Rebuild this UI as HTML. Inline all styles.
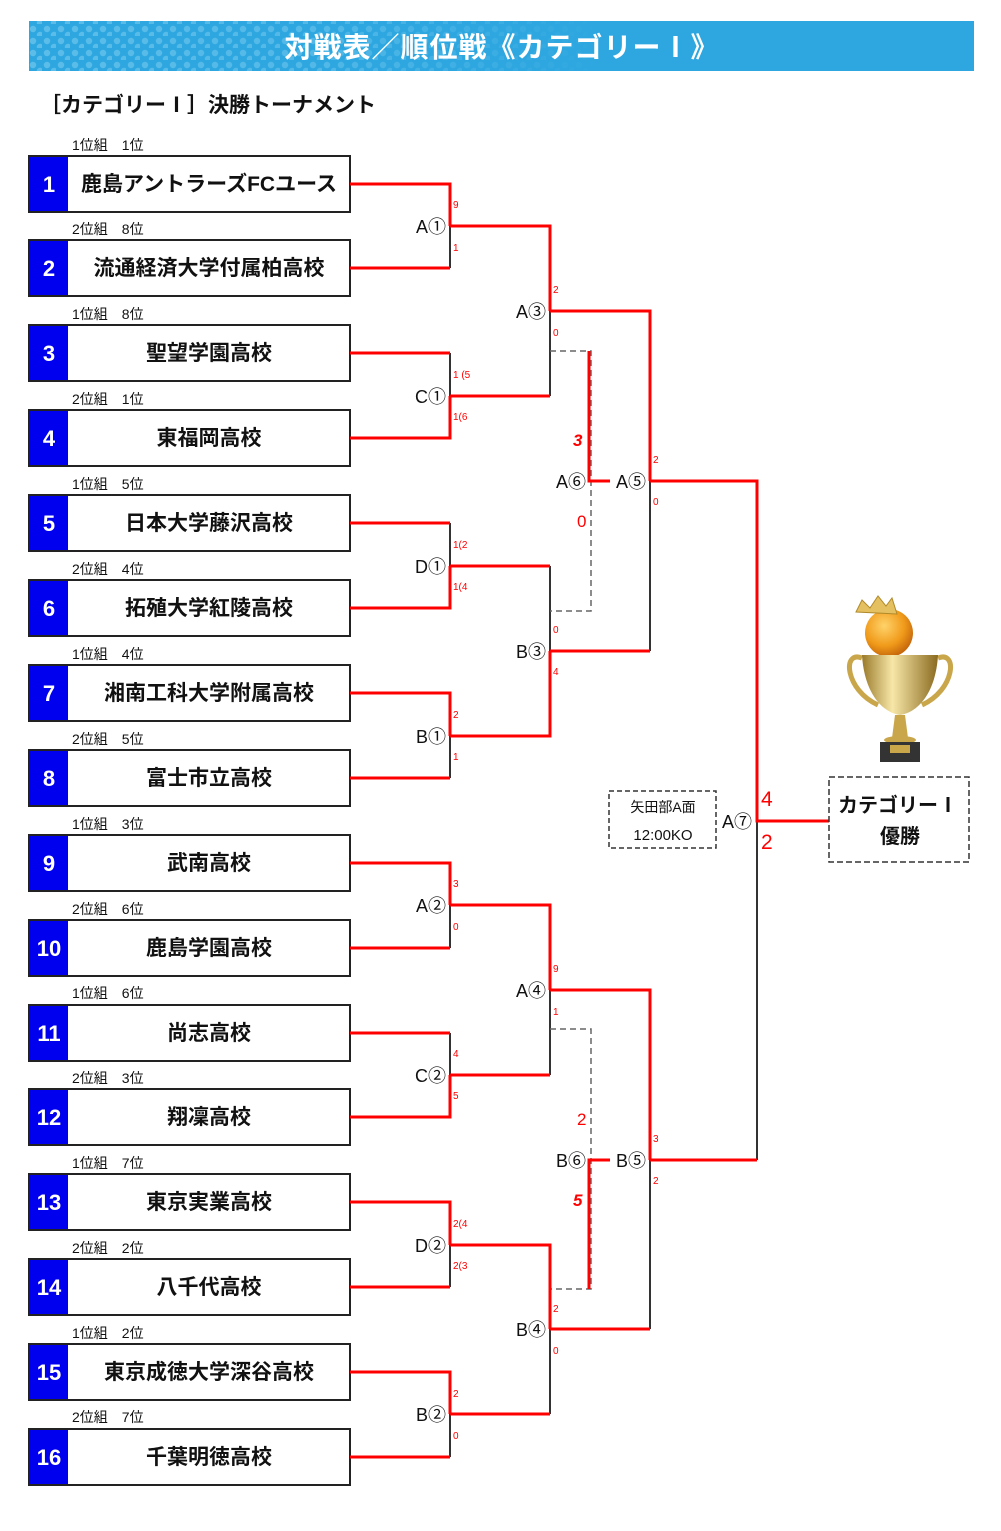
<!DOCTYPE html>
<html><head><meta charset="utf-8">
<style>
html,body{margin:0;padding:0;background:#fff;}
body{width:1001px;height:1526px;overflow:hidden;font-family:"Liberation Sans","Noto Sans CJK JP",sans-serif;}
svg text{font-family:"Liberation Sans","Noto Sans CJK JP",sans-serif;}
</style></head><body>
<svg width="1001" height="1526" viewBox="0 0 1001 1526" xmlns="http://www.w3.org/2000/svg">
<defs>
<pattern id="dots" width="14" height="12" patternUnits="userSpaceOnUse">
<circle cx="5" cy="5" r="3.2" fill="#5cbde9"/>
<circle cx="12" cy="11" r="3.2" fill="#5cbde9"/>
</pattern>
<linearGradient id="fade" x1="0" x2="1"><stop offset="0" stop-color="#2ea7e0" stop-opacity="0"/><stop offset="0.3" stop-color="#2ea7e0" stop-opacity="0.2"/><stop offset="0.6" stop-color="#2ea7e0" stop-opacity="1"/></linearGradient>
<radialGradient id="ball" cx="0.4" cy="0.35" r="0.7"><stop offset="0" stop-color="#ffd36a"/><stop offset="0.6" stop-color="#f09a1a"/><stop offset="1" stop-color="#c0600a"/></radialGradient>
<linearGradient id="gold" x1="0" x2="1"><stop offset="0" stop-color="#9a7a2a"/><stop offset="0.4" stop-color="#f7e7a8"/><stop offset="1" stop-color="#8a6a20"/></linearGradient>
</defs>
<!-- header -->
<rect x="29" y="21" width="945" height="50" fill="#2ea7e0"/>
<rect x="29" y="21" width="945" height="50" fill="url(#dots)"/>
<rect x="29" y="21" width="945" height="50" fill="url(#fade)"/>
<text x="502" y="57" text-anchor="middle" font-size="28" font-weight="bold" fill="#fff" letter-spacing="1">対戦表／順位戦《カテゴリーⅠ》</text>
<text x="40" y="112" font-size="21" font-weight="bold" fill="#111">［カテゴリーⅠ］決勝トーナメント</text>

<!-- teams -->
<g font-size="14" fill="#111">
<text x="72" y="150">1位組　1位</text><text x="72" y="234">2位組　8位</text>
<text x="72" y="319">1位組　8位</text><text x="72" y="404">2位組　1位</text>
<text x="72" y="489">1位組　5位</text><text x="72" y="574">2位組　4位</text>
<text x="72" y="659">1位組　4位</text><text x="72" y="744">2位組　5位</text>
<text x="72" y="829">1位組　3位</text><text x="72" y="914">2位組　6位</text>
<text x="72" y="998">1位組　6位</text><text x="72" y="1083">2位組　3位</text>
<text x="72" y="1168">1位組　7位</text><text x="72" y="1253">2位組　2位</text>
<text x="72" y="1338">1位組　2位</text><text x="72" y="1422">2位組　7位</text>
</g>
<g stroke="#222" stroke-width="2" fill="#fff">
<rect x="29" y="156" width="321" height="56"/><rect x="29" y="240" width="321" height="56"/>
<rect x="29" y="325" width="321" height="56"/><rect x="29" y="410" width="321" height="56"/>
<rect x="29" y="495" width="321" height="56"/><rect x="29" y="580" width="321" height="56"/>
<rect x="29" y="665" width="321" height="56"/><rect x="29" y="750" width="321" height="56"/>
<rect x="29" y="835" width="321" height="56"/><rect x="29" y="920" width="321" height="56"/>
<rect x="29" y="1005" width="321" height="56"/><rect x="29" y="1089" width="321" height="56"/>
<rect x="29" y="1174" width="321" height="56"/><rect x="29" y="1259" width="321" height="56"/>
<rect x="29" y="1344" width="321" height="56"/><rect x="29" y="1429" width="321" height="56"/>
</g>
<g fill="#0000ee">
<rect x="30" y="157" width="38" height="54"/><rect x="30" y="241" width="38" height="54"/>
<rect x="30" y="326" width="38" height="54"/><rect x="30" y="411" width="38" height="54"/>
<rect x="30" y="496" width="38" height="54"/><rect x="30" y="581" width="38" height="54"/>
<rect x="30" y="666" width="38" height="54"/><rect x="30" y="751" width="38" height="54"/>
<rect x="30" y="836" width="38" height="54"/><rect x="30" y="921" width="38" height="54"/>
<rect x="30" y="1006" width="38" height="54"/><rect x="30" y="1090" width="38" height="54"/>
<rect x="30" y="1175" width="38" height="54"/><rect x="30" y="1260" width="38" height="54"/>
<rect x="30" y="1345" width="38" height="54"/><rect x="30" y="1430" width="38" height="54"/>
</g>
<g fill="#fff" font-size="22" font-weight="bold" text-anchor="middle">
<text x="49" y="192">1</text><text x="49" y="276">2</text><text x="49" y="361">3</text><text x="49" y="446">4</text>
<text x="49" y="531">5</text><text x="49" y="616">6</text><text x="49" y="701">7</text><text x="49" y="786">8</text>
<text x="49" y="871">9</text><text x="49" y="956">10</text><text x="49" y="1041">11</text><text x="49" y="1125">12</text>
<text x="49" y="1210">13</text><text x="49" y="1295">14</text><text x="49" y="1380">15</text><text x="49" y="1465">16</text>
</g>
<g fill="#111" font-size="21" font-weight="bold" text-anchor="middle">
<text x="209" y="191">鹿島アントラーズFCユース</text><text x="209" y="275">流通経済大学付属柏高校</text>
<text x="209" y="360">聖望学園高校</text><text x="209" y="445">東福岡高校</text>
<text x="209" y="530">日本大学藤沢高校</text><text x="209" y="615">拓殖大学紅陵高校</text>
<text x="209" y="700">湘南工科大学附属高校</text><text x="209" y="785">富士市立高校</text>
<text x="209" y="870">武南高校</text><text x="209" y="955">鹿島学園高校</text>
<text x="209" y="1040">尚志高校</text><text x="209" y="1124">翔凜高校</text>
<text x="209" y="1209">東京実業高校</text><text x="209" y="1294">八千代高校</text>
<text x="209" y="1379">東京成徳大学深谷高校</text><text x="209" y="1464">千葉明徳高校</text>
</g>

<!-- black lines (losers) -->
<g stroke="#333" stroke-width="2" fill="none">
<path d="M450 226V268M450 353V396M450 523V566M450 736V778M450 905V948M450 1033V1075M450 1245V1287M450 1414V1457"/>
<path d="M550 311V396M550 566V651M550 990V1075M550 1329V1414"/>
<path d="M650 481V651M650 1160V1329"/>
<path d="M757 821V1160"/>
</g>
<g stroke="#666" stroke-width="1.5" fill="none" stroke-dasharray="6,4">
<path d="M550 351H591V611H550"/>
<path d="M550 1029H591V1289H550"/>
</g>
<!-- red lines (winners) -->
<g stroke="#ff0000" stroke-width="3" fill="none">
<path d="M350 184H450V226M350 268H450"/>
<path d="M350 353H450M350 438H450V396"/>
<path d="M350 523H450M350 608H450V566"/>
<path d="M350 693H450V736M350 778H450"/>
<path d="M350 863H450V905M350 948H450"/>
<path d="M350 1033H450M350 1117H450V1075"/>
<path d="M350 1202H450V1245M350 1287H450"/>
<path d="M350 1372H450V1414M350 1457H450"/>
<path d="M450 226H550V311M450 396H550"/>
<path d="M450 566H550M450 736H550V651"/>
<path d="M450 905H550V990M450 1075H550"/>
<path d="M450 1245H550V1329M450 1414H550"/>
<path d="M550 311H650V481M550 651H650"/>
<path d="M550 990H650V1160M550 1329H650"/>
<path d="M650 481H757V821H830M650 1160H757"/>
<path d="M589 351V481H610"/>
<path d="M589 1289V1160H610"/>
</g>

<!-- match labels -->
<g font-size="18" fill="#111" text-anchor="end">
<text x="446" y="233">A①</text><text x="446" y="403">C①</text><text x="446" y="573">D①</text><text x="446" y="743">B①</text>
<text x="446" y="912">A②</text><text x="446" y="1082">C②</text><text x="446" y="1252">D②</text><text x="446" y="1421">B②</text>
<text x="546" y="318">A③</text><text x="546" y="658">B③</text><text x="546" y="997">A④</text><text x="546" y="1336">B④</text>
<text x="646" y="488">A⑤</text><text x="646" y="1167">B⑤</text>
<text x="586" y="488">A⑥</text><text x="586" y="1167">B⑥</text>
<text x="752" y="828">A⑦</text>
</g>
<!-- scores -->
<g font-size="10" fill="#ff0000">
<text x="453" y="208">9</text><text x="453" y="251">1</text>
<text x="453" y="378">1 (5</text><text x="453" y="420">1(6</text>
<text x="453" y="548">1(2</text><text x="453" y="590">1(4</text>
<text x="453" y="718">2</text><text x="453" y="760">1</text>
<text x="453" y="887">3</text><text x="453" y="930">0</text>
<text x="453" y="1057">4</text><text x="453" y="1099">5</text>
<text x="453" y="1227">2(4</text><text x="453" y="1269">2(3</text>
<text x="453" y="1397">2</text><text x="453" y="1439">0</text>
<text x="553" y="293">2</text><text x="553" y="336">0</text>
<text x="553" y="633">0</text><text x="553" y="675">4</text>
<text x="553" y="972">9</text><text x="553" y="1015">1</text>
<text x="553" y="1312">2</text><text x="553" y="1354">0</text>
<text x="653" y="463">2</text><text x="653" y="505">0</text>
<text x="653" y="1142">3</text><text x="653" y="1184">2</text>
</g>
<g font-size="17" fill="#ff0000">
<text x="573" y="446" font-style="italic" font-weight="bold">3</text>
<text x="577" y="527">0</text>
<text x="577" y="1125">2</text>
<text x="573" y="1206" font-style="italic" font-weight="bold">5</text>
<text x="761" y="806" font-size="21">4</text>
<text x="761" y="849" font-size="21">2</text>
</g>

<!-- venue box -->
<rect x="609" y="791" width="107" height="57" fill="#fff" stroke="#333" stroke-width="1.5" stroke-dasharray="5,3"/>
<text x="663" y="812" font-size="14" text-anchor="middle" fill="#111">矢田部A面</text>
<text x="663" y="840" font-size="15" text-anchor="middle" fill="#111">12:00KO</text>
<!-- champion box -->
<rect x="829" y="777" width="140" height="85" fill="#fff" stroke="#333" stroke-width="1.5" stroke-dasharray="6,3"/>
<text x="898" y="812" font-size="20" font-weight="bold" text-anchor="middle" fill="#111">カテゴリーⅠ</text>
<text x="900" y="843" font-size="20" font-weight="bold" text-anchor="middle" fill="#111">優勝</text>

<!-- trophy -->
<g>
<path d="M862 658 C842 650 845 690 878 705" stroke="#c9a64a" stroke-width="5" fill="none"/>
<path d="M938 658 C958 650 955 690 922 705" stroke="#c9a64a" stroke-width="5" fill="none"/>
<circle cx="889" cy="633" r="24" fill="url(#ball)"/>
<path d="M856 612 L862 600 L870 608 L878 596 L886 606 L892 598 L897 614 Z" fill="#e5c060" stroke="#b08a2a"/>
<path d="M862 655 H938 C936 690 920 712 900 715 C880 712 864 690 862 655Z" fill="url(#gold)"/>
<path d="M895 715 H905 L908 738 H892Z" fill="#c9a64a"/>
<ellipse cx="900" cy="740" rx="16" ry="4" fill="#c9a64a"/>
<rect x="880" y="742" width="40" height="20" fill="#333"/>
<rect x="890" y="745" width="20" height="8" fill="#c9a64a"/>
</g>
</svg>
</body></html>
